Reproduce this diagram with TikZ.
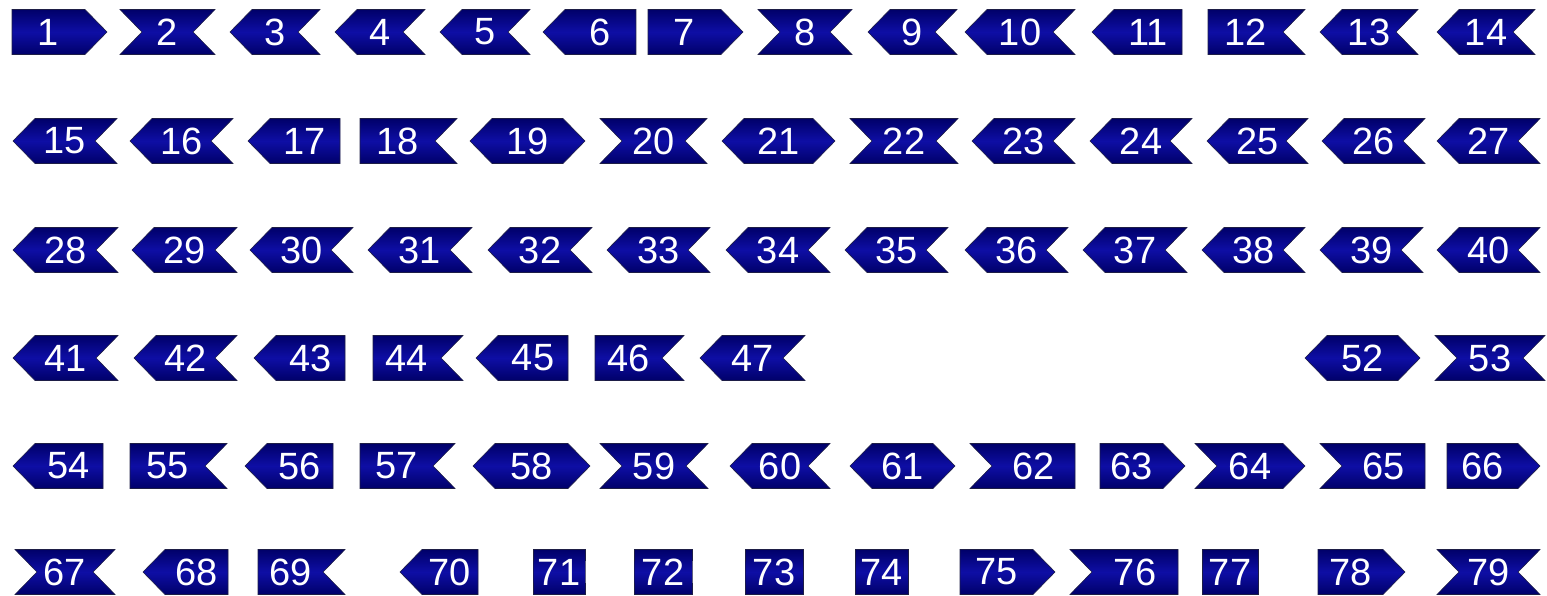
\documentclass[tikz,border=0pt]{standalone}
\usepackage{fontspec}
\setmainfont{Liberation Sans}
\definecolor{tagdark}{RGB}{0,0,105}
\definecolor{taglight}{RGB}{14,14,165}
\definecolor{tagedge}{RGB}{30,30,70}
\newcommand{\tagfont}{\fontsize{38}{40}\selectfont}
% side types: F flat, P point out, N notch in
\def\saF{0}\def\sbF{0}
\def\saP{1}\def\sbP{0}
\def\saN{0}\def\sbN{1}
\def\tagh{22.5}
\def\tagd{22}
\newcommand{\navytag}[6]{%
  \edef\tagla{\csname sa#5\endcsname}\edef\taglb{\csname sb#5\endcsname}%
  \edef\tagra{\csname sa#6\endcsname}\edef\tagrb{\csname sb#6\endcsname}%
  \path[tagbody] (#2+\tagla*\tagd,#4-\tagh) -- (#3-\tagra*\tagd,#4-\tagh)
    -- (#3-\tagrb*\tagd,#4) -- (#3-\tagra*\tagd,#4+\tagh)
    -- (#2+\tagla*\tagd,#4+\tagh) -- (#2+\taglb*\tagd,#4) -- cycle;
  \node[taglabel] (t#1) at ({(#2+#3)/2+((\tagla+\taglb)-(\tagra+\tagrb))*\tagd/2},#4) {#1};
}
\begin{document}
\begin{tikzpicture}[x=1pt, y=-1pt,
  tagbody/.style={draw=tagedge, line width=0.6pt, top color=tagdark, bottom color=tagdark, middle color=taglight},
  taglabel/.style={text=white, font=\tagfont, inner sep=0pt}]
  \useasboundingbox (0,0) rectangle (1547,595);
  % ---------------- row 1 ----------------
  \foreach \n/\xl/\xr/\ls/\rs in {1/12/107/F/P, 2/120/215/N/N, 3/230/320/P/N, 4/335/425/P/N,
      5/440/530/P/N, 6/543/636/P/F, 7/648/743/F/P, 8/758/852/N/N, 9/868/957/P/N,
      10/965/1075/P/N, 11/1092/1182/P/F, 12/1208/1305/F/N, 13/1320/1418/P/N, 14/1437/1535/P/N}
    \navytag{\n}{\xl}{\xr}{32}{\ls}{\rs};
  % ---------------- row 2 ----------------
  \foreach \n/\xl/\xr/\ls/\rs in {15/13/117/P/N, 16/130/233/P/N, 17/248/340/P/F, 18/360/457/F/N,
      19/470/585/P/P, 20/600/707/N/N, 21/722/835/P/P, 22/850/958/N/N, 23/972/1075/P/N,
      24/1090/1192/P/N, 25/1207/1308/P/N, 26/1322/1425/P/N, 27/1437/1540/P/N}
    \navytag{\n}{\xl}{\xr}{141}{\ls}{\rs};
  % ---------------- row 3 ----------------
  \foreach \n/\xl/\xr in {28/13/118, 29/132/237, 30/250/353, 31/368/472, 32/488/592,
      33/607/710, 34/726/830, 35/845/948, 36/965/1068, 37/1083/1187, 38/1202/1305,
      39/1320/1423, 40/1437/1540}
    \navytag{\n}{\xl}{\xr}{250}{P}{N};
  % ---------------- row 4 ----------------
  \foreach \n/\xl/\xr/\ls/\rs in {41/13/118/P/N, 42/134/237/P/N, 43/254/345/P/F, 44/373/463/F/N,
      45/476/568/P/F, 46/595/684/F/N, 47/700/805/P/N, 52/1305/1420/P/P, 53/1435/1545/N/N}
    \navytag{\n}{\xl}{\xr}{358}{\ls}{\rs};
  % ---------------- row 5 ----------------
  \foreach \n/\xl/\xr/\ls/\rs in {54/13/103/P/F, 55/130/227/F/N, 56/245/333/P/F, 57/360/455/F/N,
      58/473/590/P/P, 59/600/708/N/N, 60/730/830/P/N, 61/850/955/P/P, 62/970/1075/N/F,
      63/1100/1185/F/P, 64/1195/1305/N/P, 65/1320/1425/N/F, 66/1447/1540/F/P}
    \navytag{\n}{\xl}{\xr}{466}{\ls}{\rs};
  % ---------------- row 6 ----------------
  \foreach \n/\xl/\xr/\ls/\rs in {67/15/115/N/N, 68/143/228/P/F, 69/258/345/F/N, 70/400/478/P/F,
      71/533/585/F/F, 72/634/692/F/F, 73/745/803/F/F, 74/855/908/F/F, 75/960/1055/F/P,
      76/1070/1178/N/F, 77/1202/1258/F/F, 78/1318/1405/F/P, 79/1437/1540/N/N}
    \navytag{\n}{\xl}{\xr}{572}{\ls}{\rs};
\end{tikzpicture}
\end{document}
